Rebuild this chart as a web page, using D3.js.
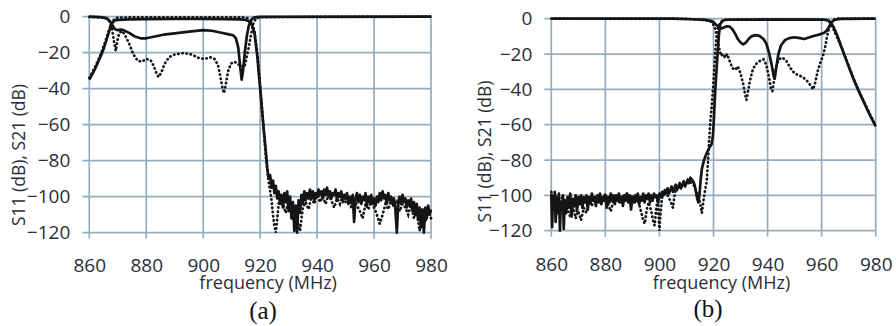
<!DOCTYPE html>
<html>
<head>
<meta charset="utf-8">
<script src="https://cdn.jsdelivr.net/npm/d3@7/dist/d3.min.js"></script>
<style>
  body { margin: 0; background: #fff; }
  svg { display: block; }
  .tick text { font-family: "Open Sans", sans-serif; font-size: 19px; fill: #2a2e37; }
  .axis-title { font-family: "Open Sans", sans-serif; font-size: 17.5px; fill: #2a2e37; }
  .caption { font-family: "Liberation Serif", "Times New Roman", serif; font-size: 25px; fill: #111; }
</style>
</head>
<body>
<svg id="chart" width="896" height="326"></svg>
<script>
// ticks shared by both panels
const freqTicks = [860, 880, 900, 920, 940, 960, 980];
const dbTicks = [0, -20, -40, -60, -80, -100, -120];

// ---- panel (a) : [frequency MHz, dB] ----
const aS21Meas = [
  [860,-35],[861,-32],[862,-29],[863,-25.5],[864,-22],[865,-18],[866,-13],[867,-8],[868,-3.5],[869,-2],[870,-1.8],
  [874,-1.5],[880,-1.3],[890,-1.2],[900,-1.2],[908,-1.3],[913,-1.5],[915,-1.8],[916,-2.5],[917,-4],[918,-9],
  [919,-22],[920,-40],[921,-58],[922,-75],[922.5,-84],[923,-90],[923.5,-88],[924,-95],[924.5,-91],[925,-98],[925.5,-94],
  [926,-101],[926.5,-97],[927,-104],[927.5,-99],[928,-106],[928.5,-98],[929,-103],[929.5,-97],[930,-108],[930.5,-100],
  [931,-112],[931.5,-103],[932,-119],[932.5,-105],[933,-120],[933.5,-102],[934,-109],[934.5,-99],[935,-104],[935.5,-97],
  [936,-102],[936.5,-98],[937,-101],[937.5,-96],[938,-100],[938.5,-97],[939,-102],[939.5,-98],[940,-100],[940.5,-96],
  [941,-99],[941.5,-97],[942,-101],[942.5,-96],[943,-99],[943.5,-95],[944,-100],[944.5,-97],[945,-101],[945.5,-98],
  [946,-99],[946.5,-96],[947,-102],[947.5,-98],[948,-100],[948.5,-97],[949,-103],[949.5,-99],[950,-101],[950.5,-98],
  [951,-104],[951.5,-100],[952,-103],[952.5,-99],[953,-114],[953.5,-101],[954,-98],[954.5,-103],[955,-99],[955.5,-104],
  [956,-100],[956.5,-102],[957,-98],[957.5,-105],[958,-100],[958.5,-103],[959,-99],[959.5,-104],[960,-101],[960.5,-105],
  [961,-100],[961.5,-103],[962,-98],[962.5,-102],[963,-97],[963.5,-101],[964,-99],[964.5,-104],[965,-98],[965.5,-102],
  [966,-100],[966.5,-104],[967,-101],[967.5,-107],[968,-120],[968.5,-103],[969,-100],[969.5,-104],[970,-99],[970.5,-103],
  [971,-101],[971.5,-106],[972,-102],[972.5,-105],[973,-101],[973.5,-108],[974,-103],[974.5,-110],[975,-104],[975.5,-113],
  [976,-106],[976.5,-117],[977,-107],[977.5,-120],[978,-106],[978.5,-112],[979,-105],[979.5,-110],[980,-107]
];
const aS21Sim = [
  [860,-34],[862,-28],[864,-21],[866,-12],[867,-7],[868,-3],[869,-1],[870,-0.5],[880,-0.3],[900,-0.3],[914,-0.4],
  [916,-1],[917,-3],[918,-8],[919,-20],[920,-38],[921,-58],[922,-78],[923,-92],[924,-102],[924.5,-110],[925,-116],
  [925.5,-120],[926,-112],[926.5,-104],[927,-100],[928,-104],[929,-109],[930,-102],[931,-110],[932,-105],[933,-113],
  [934,-119],[935,-106],[936,-103],[937,-107],[938,-100],[939,-104],[940,-98],[941,-103],[942,-100],[943,-104],
  [944,-99],[945,-102],[946,-106],[947,-101],[948,-104],[949,-99],[950,-103],[951,-100],[952,-106],[953,-102],
  [954,-105],[955,-108],[956,-112],[957,-104],[958,-107],[959,-103],[960,-106],[961,-110],[962,-115],[963,-110],
  [964,-104],[965,-107],[966,-102],[967,-106],[968,-103],[969,-108],[970,-104],[971,-106],[972,-110],[973,-104],
  [974,-112],[975,-108],[976,-119],[977,-110],[978,-114],[979,-108],[980,-112]
];
const aS11Meas = [
  [860,0],[864,-0.2],[866,-0.8],[867,-2],[868,-4.5],[869,-7],[870,-7.5],[871,-7.2],[872,-7.5],[874,-9],[876,-11],
  [878,-12],[880,-12],[883,-11],[886,-10],[890,-9.3],[895,-8.3],[900,-7.5],[903,-7.8],[906,-8.8],[909,-9.8],
  [910.5,-10.3],[911.5,-12],[912.3,-17],[913,-28],[913.5,-35],[914,-30],[914.6,-20],[915.3,-11],[916,-5],
  [917,-1.5],[918,-0.4],[920,-0.1],[980,0]
];
const aS11Sim = [
  [860,-0.1],[865,-0.5],[866,-1],[867,-2.5],[868,-7],[868.7,-14],[869.3,-19],[869.8,-14],[870.5,-9],[871.5,-8],
  [872.5,-10],[874,-15],[875.5,-21],[877,-24.5],[878.5,-25],[880,-23.5],[881.5,-24],[882.5,-27],[883.5,-31],
  [884.3,-33.5],[885.3,-31],[886.5,-26],[888,-22.5],[890,-21],[893,-20.2],[896,-21],[898.5,-23],[900.5,-23.5],
  [902.5,-22.5],[904,-23.5],[905.2,-27],[906,-33],[906.8,-40],[907.3,-42.5],[908,-37],[908.8,-30],[909.8,-26],
  [911,-25],[912.3,-26.5],[913.5,-27],[914.5,-28],[915.3,-22],[916,-17],[916.8,-10],[917.6,-4],[918.5,-1],
  [920,-0.2],[980,0]
];

// ---- panel (b) : [frequency MHz, dB] ----
const bS21Meas = [
  [860,-99],[860.3,-118],[860.6,-101],[861,-108],[861.3,-98],[861.6,-115],[862,-102],[862.5,-110],[862.8,-99],
  [863.2,-120],[863.5,-104],[864,-108],[864.3,-100],[864.6,-119],[865,-103],[865.5,-110],[866,-101],[866.5,-107],
  [867,-99],[867.5,-112],[868,-102],[868.5,-106],[869,-100],[869.5,-109],[870,-101],[870.5,-105],[871,-100],
  [871.5,-107],[872,-101],[872.5,-104],[873,-100],[873.5,-108],[874,-101],[874.5,-104],[875,-99],[875.5,-103],
  [876,-101],[876.5,-106],[877,-100],[877.5,-104],[878,-99],[878.5,-105],[879,-101],[879.5,-103],[880,-100],
  [880.5,-107],[881,-101],[881.5,-104],[882,-99],[882.5,-103],[883,-100],[883.5,-105],[884,-100],[884.5,-103],
  [885,-99],[885.5,-104],[886,-101],[886.5,-106],[887,-100],[887.5,-103],[888,-99],[888.5,-104],[889,-100],
  [889.5,-108],[890,-101],[890.5,-104],[891,-100],[891.5,-103],[892,-99],[892.5,-105],[893,-101],[893.5,-103],
  [894,-99],[894.5,-104],[895,-100],[895.5,-102],[896,-99],[896.5,-104],[897,-100],[897.5,-103],[898,-99],
  [898.5,-101],[899,-100],[899.5,-104],[900,-99],[900.5,-101],[901,-98],[901.5,-100],[902,-97],[902.5,-99],
  [903,-96],[903.5,-99],[904,-97],[904.5,-95],[905,-98],[905.5,-96],[906,-94],[906.5,-97],[907,-95],[907.5,-93],
  [908,-96],[908.5,-94],[909,-92],[909.5,-95],[910,-93],[910.5,-91],[911,-93],[911.5,-90],[912,-91],[912.5,-92],
  [913,-94],[913.5,-98],[914,-102],[914.4,-104],[914.8,-100],[915.2,-92],[915.7,-85],[916.5,-80],[917.5,-76],
  [918.5,-73],[919.3,-71],[919.8,-66],[920.2,-55],[920.6,-42],[921,-32],[921.5,-20],[922,-9],[922.5,-3],
  [923.5,-1],[925,-0.6],[940,-0.5],[955,-0.5],[961,-0.6],[962.5,-1],[963.5,-2.5],[964.5,-5],[965.5,-8.5],
  [966.5,-12.5],[968,-19],[970,-27],[972,-35],[974,-42],[976,-48.5],[978,-55],[980,-61]
];
const bS21Sim = [
  [860,-98],[861,-104],[862,-100],[863,-106],[864,-101],[865,-103],[866,-108],[867,-112],[868,-106],[869,-113],
  [870,-109],[871,-114],[872,-107],[873,-110],[874,-103],[875,-106],[876,-101],[877,-104],[878,-100],[879,-103],
  [880,-99],[881,-105],[882,-109],[883,-103],[884,-101],[885,-104],[886,-100],[887,-102],[888,-99],[889,-103],
  [890,-100],[891,-104],[892,-102],[893,-108],[894,-114],[894.6,-116],[895.3,-108],[896,-104],[897,-109],
  [897.6,-114],[898.2,-117],[898.8,-108],[899.3,-102],[899.7,-112],[900,-120],[900.4,-110],[901,-101],[902,-99],
  [903,-100],[904,-103],[905,-107],[905.5,-101],[906,-97],[907,-95],[908,-96],[909,-93],[910,-94],[911,-92],
  [912,-93],[913,-95],[914,-99],[915,-104],[915.7,-110],[916.2,-104],[916.8,-98],[917.5,-92],[918,-80],
  [918.7,-61],[919.4,-48],[919.9,-38],[920.4,-25],[920.9,-14],[921.5,-6],[922.5,-2],[924,-0.6],[940,-0.4],
  [960,-0.5],[962,-0.8],[963,-2],[964,-4.5],[965,-8],[966,-11.5],[968,-18.5],[970,-26.5],[972,-34.5],
  [974,-41.5],[976,-48],[978,-54.5],[980,-60.5]
];
const bS11Meas = [
  [860,0],[905,0],[912,-0.3],[917,-0.7],[919,-1.2],[920,-2],[921,-3.5],[922,-5],[923,-5.5],[924,-4.8],[925,-4.3],
  [926,-4.5],[927,-6],[928,-8.5],[929,-11.5],[930,-13.5],[931,-14.5],[932,-13.5],[933,-11.5],[934,-10],
  [935.5,-9.3],[937,-9.7],[938.5,-11.5],[939.5,-14],[940.5,-19],[941.5,-26],[942.2,-32],[942.6,-34],[943.2,-28],
  [944,-20],[945,-15],[946.5,-12],[948,-11],[950,-10.5],[952,-11],[953.5,-11.5],[955,-10.8],[957,-9.8],[959,-9],
  [961,-8],[962,-6.5],[963,-4],[964,-1.5],[965,-0.5],[967,-0.1],[980,0]
];
const bS11Sim = [
  [860,0],[910,-0.1],[915,-0.5],[918,-1],[919.5,-2],[920.5,-5],[921.3,-10],[922,-16],[922.8,-21],[923.5,-20],
  [924.3,-22],[925,-20],[926,-24],[927,-28],[928,-29],[929,-27],[930,-31],[931,-37],[931.7,-43],[932.2,-46],
  [932.8,-41],[933.5,-35],[934.5,-29],[935.5,-26],[937,-24],[938.5,-23],[939.5,-26],[940.5,-33],[941.3,-40],
  [941.8,-41],[942.4,-35],[943.2,-27],[944.2,-23],[945.5,-22],[947,-24],[948.5,-28],[950,-31],[951.5,-32],
  [953,-33],[954.5,-35],[956,-38],[956.8,-40],[957.5,-37],[958.5,-30],[959.5,-25],[960.5,-21],[961.3,-16],
  [962,-10],[962.8,-5],[963.5,-2],[964.5,-0.5],[966,0],[980,0]
];

const panels = [
  { left: 89.3, right: 431, top: 16.7, bottom: 232.7, xPad: 26, yTitleX: 25, yTitleY: 155, xTitleY: 289,
    caption: '(a)', capX: 263, capY: 318.5, solid: [aS21Meas, aS11Meas], dotted: [aS21Sim, aS11Sim] },
  { left: 551.3, right: 875.7, top: 18.7, bottom: 230.7, xPad: 27, yTitleX: 491, yTitleY: 151.5, xTitleY: 288.5,
    caption: '(b)', capX: 708, capY: 316.5, solid: [bS21Meas, bS11Meas], dotted: [bS21Sim, bS11Sim] }
];

const svg = d3.select('#chart');

function drawPanel(p) {
  const w = p.right - p.left;
  const h = p.bottom - p.top;
  const x = d3.scaleLinear().domain([860, 980]).range([0, w]);
  const y = d3.scaleLinear().domain([-120, 0]).range([h, 0]);
  const g = svg.append('g').attr('transform', `translate(${p.left},${p.top})`);

  // grid (with the little outside ticks)
  const grid = g.append('g').attr('stroke', '#97adbf').attr('stroke-width', 1.7);
  grid.selectAll('line.vx').data(freqTicks).enter().append('line')
    .attr('class', 'vx')
    .attr('x1', (d) => x(d)).attr('x2', (d) => x(d))
    .attr('y1', 0).attr('y2', h + 6);
  grid.selectAll('line.hy').data(dbTicks).enter().append('line')
    .attr('class', 'hy')
    .attr('x1', -7).attr('x2', w)
    .attr('y1', (d) => y(d)).attr('y2', (d) => y(d));

  // tick labels
  g.append('g')
    .attr('transform', `translate(0,${h})`)
    .call(d3.axisBottom(x).tickValues(freqTicks).tickSize(0).tickPadding(p.xPad).tickFormat(d3.format('d')))
    .call((a) => a.select('.domain').remove());
  g.append('g')
    .call(d3.axisLeft(y).tickValues(dbTicks).tickSize(0).tickPadding(19).tickFormat(d3.format('d')))
    .call((a) => a.select('.domain').remove());
  g.selectAll('.tick text').attr('font-family', null).attr('font-size', null);

  const line = d3.line().x((d) => x(d[0])).y((d) => y(d[1]));

  g.selectAll('path.sim').data(p.dotted).enter().append('path')
    .attr('class', 'sim')
    .attr('d', line)
    .attr('fill', 'none')
    .attr('stroke', '#151515')
    .attr('stroke-width', 2.7)
    .attr('stroke-linecap', 'round')
    .attr('stroke-dasharray', '0.4 3.8');

  g.selectAll('path.meas').data(p.solid).enter().append('path')
    .attr('class', 'meas')
    .attr('d', line)
    .attr('fill', 'none')
    .attr('stroke', '#151515')
    .attr('stroke-width', 2.7)
    .attr('stroke-linejoin', 'round');

  // titles
  svg.append('text').attr('class', 'axis-title')
    .attr('transform', `translate(${p.yTitleX},${p.yTitleY}) rotate(-90)`)
    .attr('text-anchor', 'middle')
    .text('S11 (dB), S21 (dB)');
  svg.append('text').attr('class', 'axis-title')
    .attr('x', p.left + w / 2 + 8).attr('y', p.xTitleY)
    .attr('text-anchor', 'middle')
    .attr('font-size', '18px')
    .style('font-size', '18px')
    .text('frequency (MHz)');
  svg.append('text').attr('class', 'caption')
    .attr('x', p.capX).attr('y', p.capY)
    .attr('text-anchor', 'middle')
    .text(p.caption);
}

panels.forEach(drawPanel);
</script>
</body>
</html>
